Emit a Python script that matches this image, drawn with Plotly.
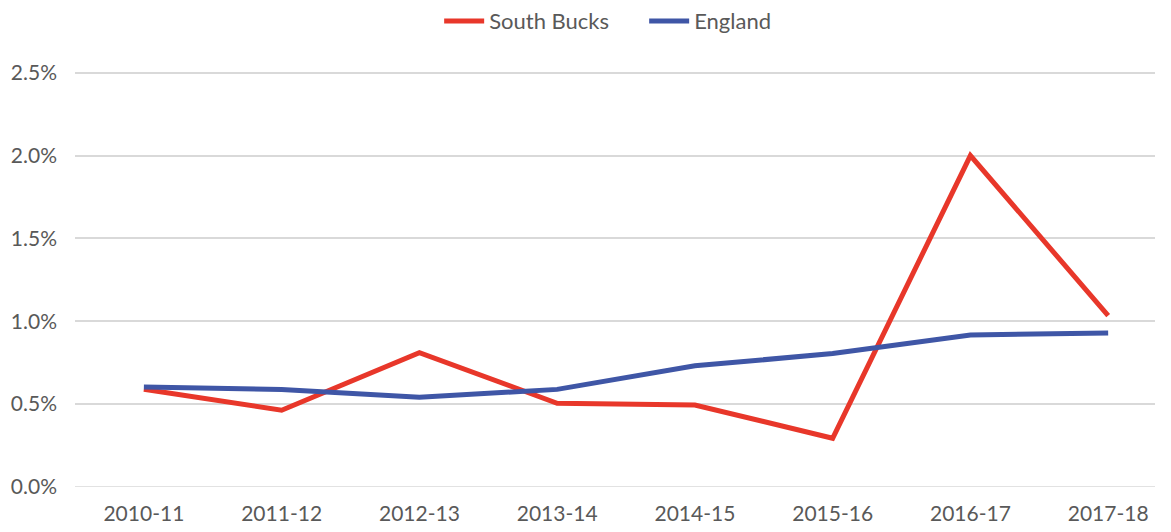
import plotly.graph_objects as go

years = ["2010-11", "2011-12", "2012-13", "2013-14", "2014-15", "2015-16", "2016-17", "2017-18"]
south_bucks = [0.0059, 0.00463, 0.00811, 0.00505, 0.00495, 0.00294, 0.0200, 0.01034]
england = [0.00603, 0.00589, 0.00541, 0.00589, 0.00731, 0.00805, 0.00917, 0.00929]
y_ticks = [0, 0.005, 0.01, 0.015, 0.02, 0.025]

fig = go.Figure()
fig.add_trace(go.Scatter(x=years, y=south_bucks, mode="lines", name="South Bucks",
                         line=dict(color="#E8372A", width=5)))
fig.add_trace(go.Scatter(x=years, y=england, mode="lines", name="England",
                         line=dict(color="#3F56A6", width=5)))

font = dict(family="Lato, Carlito, Calibri, sans-serif", size=21, color="#595959")
legend_font = dict(family="Lato, Carlito, Calibri, sans-serif", size=22, color="#595959")
fig.update_layout(
    width=1163, height=524,
    paper_bgcolor="white", plot_bgcolor="white",
    margin=dict(l=67, r=16, t=63, b=45),
    font=font,
    showlegend=True,
    legend=dict(orientation="h", x=0.527, xanchor="center", y=0.975, yref="container",
                yanchor="middle", font=legend_font, itemwidth=40,
                entrywidth=150, entrywidthmode="pixels"),
    xaxis=dict(type="category", range=[-0.5, 7.34], showgrid=False, zeroline=False,
               showline=False, ticks="", tickfont=font, automargin=False,
               ticklabelstandoff=12),
    yaxis=dict(range=[0, 0.0251], tickvals=y_ticks, tickformat=".1%", showgrid=True,
               gridcolor="#D9D9D9", gridwidth=1.5, zeroline=False, showline=False,
               ticks="", tickfont=font, ticklabelstandoff=17, automargin=False),
)
fig.add_hline(y=0, line=dict(color="#D9D9D9", width=1.5), layer="below")
fig.write_html("out.html")
